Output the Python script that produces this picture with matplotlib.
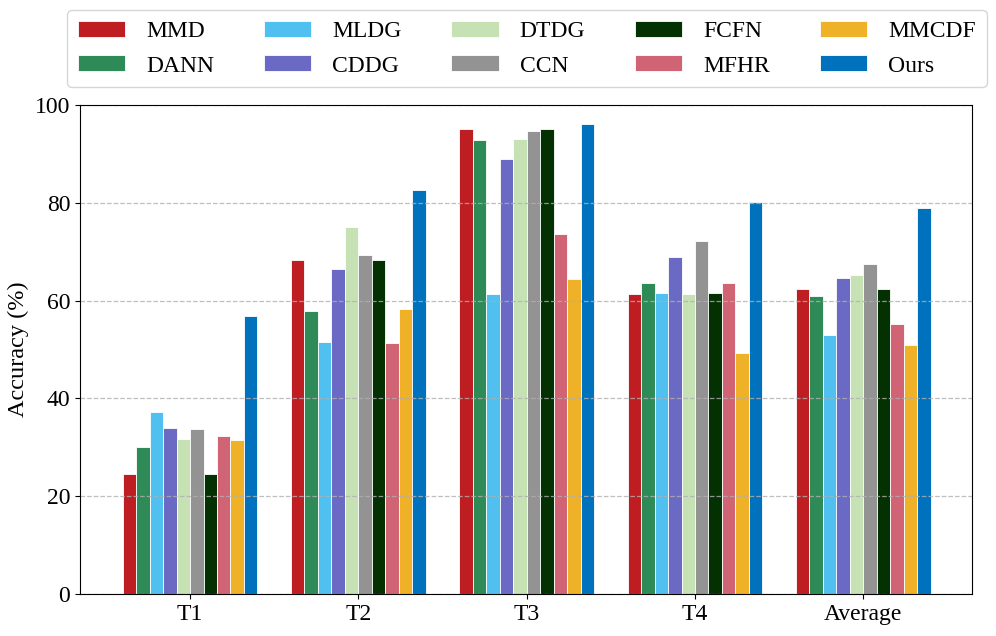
import numpy as np
import matplotlib
matplotlib.use("Agg")
import matplotlib.pyplot as plt

# Data
tasks = ["T1", "T2", "T3", "T4", "Average"]
methods = ["MMD", "DANN", "MLDG", "CDDG", "DTDG", "CCN", "FCFN", "MFHR", "MMCDF", "Ours"]

mmd = [24.6, 68.3, 95.1, 61.3, 62.3]
dann = [30.0, 57.9, 92.9, 63.5, 61.0]
mldg = [37.3, 51.6, 61.4, 61.5, 53.0]
cddg = [34.0, 66.5, 88.9, 68.9, 64.7]
dtdg = [31.7, 75.0, 93.0, 61.4, 65.3]
ccn = [33.8, 69.4, 94.7, 72.2, 67.5]
fcfn = [24.6, 68.3, 95.1, 61.6, 62.4]
mfhr = [32.3, 51.4, 73.6, 63.6, 55.2]
mmcdf = [31.5, 58.3, 64.5, 49.2, 50.9]
ours = [56.8, 82.6, 96.1, 80.2, 79.0]

series = [mmd, dann, mldg, cddg, dtdg, ccn, fcfn, mfhr, mmcdf, ours]
colors = ["#BE1E22", "#2E8B57", "#4FC0EF", "#6A6AC4", "#C6E2B5",
          "#939393", "#033102", "#D06474", "#EEB127", "#0072BD"]

plt.rcParams['font.family'] = ['Liberation Serif', 'DejaVu Serif']

fig = plt.figure(figsize=(9.96, 6.36), dpi=100)
ax = fig.add_axes([0.0803, 0.066, 0.8956, 0.769])

x = np.arange(len(tasks))
width = 0.08
for i, (name, vals) in enumerate(zip(methods, series)):
    offset = (i - (len(methods) - 1) / 2) * width
    ax.bar(x + offset, vals, width, color=colors[i], label=name,
           edgecolor='white', linewidth=0.6)

ax.set_xlim(-0.654, 4.646)
ax.set_ylim(0, 100)
ax.set_xticks(x)
ax.set_xticklabels(tasks, fontsize=17)
ax.set_yticks([0, 20, 40, 60, 80, 100])
ax.tick_params(axis='y', labelsize=17)
ax.set_ylabel('Accuracy (%)', fontsize=17.5)
ax.yaxis.grid(True, linestyle='--', color='#b0b0b0', alpha=0.8, linewidth=0.9)

fig.legend(loc='upper center', bbox_to_anchor=(0.529, 0.984), ncol=5,
           fontsize=17, frameon=True, handlelength=2.0, handleheight=0.68,
           handletextpad=0.9, columnspacing=2.1, borderpad=0.45,
           labelspacing=0.55, borderaxespad=0)

fig.savefig('out.png', dpi=100)
